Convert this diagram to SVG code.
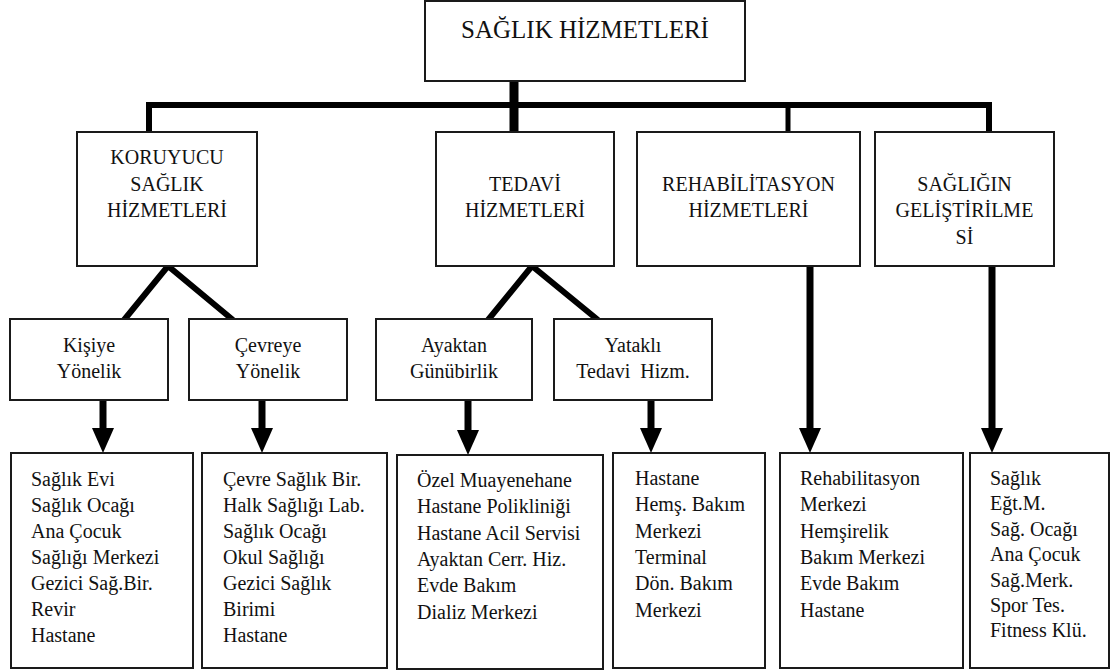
<svg xmlns="http://www.w3.org/2000/svg" width="1113" height="670" viewBox="0 0 1113 670">
<defs>
<style>
.box{fill:#fff;stroke:#1a1a1a;stroke-width:2}
text{font-family:'Liberation Serif','DejaVu Serif',serif;font-size:20px;fill:#111;white-space:pre}
.c{text-anchor:middle}
.title{font-size:25px}
.ln{fill:none;stroke:#000;stroke-width:6}
.arr{fill:none;stroke:#000;stroke-width:7;marker-end:url(#ah)}
</style>
<marker id="ah" markerUnits="userSpaceOnUse" viewBox="0 0 25 22" refX="0" refY="11" markerWidth="25" markerHeight="22" orient="auto">
<path d="M0,0 L25,11 L0,22 z" fill="#000"/>
</marker>
</defs>
<rect width="1113" height="670" fill="#fff"/>

<g id="connectors">
<path class="ln" d="M149,133 V105 H989 V133"/>
<line x1="514" y1="81" x2="514" y2="133" stroke="#000" stroke-width="9"/>
<line x1="788" y1="105" x2="788" y2="133" stroke="#000" stroke-width="5"/>
<polyline class="ln" stroke-width="5" points="124,320 168,266 233,320"/>
<polyline class="ln" stroke-width="5" points="488,320 532,266 598,320"/>
<line class="arr" x1="103" y1="400" x2="103" y2="428"/>
<line class="arr" x1="262" y1="400" x2="262" y2="428"/>
<line class="arr" x1="468" y1="400" x2="468" y2="430"/>
<line class="arr" x1="651" y1="400" x2="651" y2="428"/>
<line class="arr" x1="810" y1="266" x2="810" y2="428"/>
<line class="arr" x1="992" y1="266" x2="992" y2="428"/>
</g>

<g id="root">
<rect class="box" x="425" y="1" width="320" height="80"/>
<text class="c title" font-family="Liberation Serif" x="585" y="38">SAĞLIK HİZMETLERİ</text>
</g>

<g id="koruyucu">
<rect class="box" x="77" y="132" width="180" height="134"/>
<text class="c" font-family="Liberation Serif" x="167" y="164">KORUYUCU<tspan x="167" dy="27">SAĞLIK</tspan><tspan x="167" dy="26">HİZMETLERİ</tspan></text>
</g>
<g id="tedavi">
<rect class="box" x="436" y="132" width="178" height="134"/>
<text class="c" font-family="Liberation Serif" x="525" y="191">TEDAVİ<tspan x="525" dy="26">HİZMETLERİ</tspan></text>
</g>
<g id="rehabilitasyon">
<rect class="box" x="637" y="132" width="223" height="134"/>
<text class="c" font-family="Liberation Serif" x="748.5" y="191">REHABİLİTASYON<tspan x="748.5" dy="26">HİZMETLERİ</tspan></text>
</g>
<g id="gelistirilme">
<rect class="box" x="875" y="132" width="179" height="134"/>
<text class="c" font-family="Liberation Serif" x="964.5" y="191">SAĞLIĞIN<tspan x="964.5" dy="26">GELİŞTİRİLME</tspan><tspan x="964.5" dy="27">Sİ</tspan></text>
</g>

<g id="kisiye">
<rect class="box" x="10" y="319" width="158" height="81"/>
<text class="c" font-family="Liberation Serif" x="89" y="352">Kişiye<tspan x="89" dy="26">Yönelik</tspan></text>
</g>
<g id="cevreye">
<rect class="box" x="189" y="319" width="158" height="81"/>
<text class="c" font-family="Liberation Serif" x="268" y="352">Çevreye<tspan x="268" dy="26">Yönelik</tspan></text>
</g>
<g id="ayaktan">
<rect class="box" x="376" y="319" width="156" height="81"/>
<text class="c" font-family="Liberation Serif" x="454" y="352">Ayaktan<tspan x="454" dy="26">Günübirlik</tspan></text>
</g>
<g id="yatakli">
<rect class="box" x="554" y="319" width="158" height="81"/>
<text class="c" font-family="Liberation Serif" x="633" y="352">Yataklı<tspan x="633" dy="26">Tedavi  Hizm.</tspan></text>
</g>

<g id="list1">
<rect class="box" x="11" y="453" width="182" height="215"/>
<text font-family="Liberation Serif" x="31" y="486">Sağlık Evi<tspan x="31" dy="26">Sağlık Ocağı</tspan><tspan x="31" dy="26">Ana Çocuk</tspan><tspan x="31" dy="26">Sağlığı Merkezi</tspan><tspan x="31" dy="26">Gezici Sağ.Bir.</tspan><tspan x="31" dy="26">Revir</tspan><tspan x="31" dy="26">Hastane</tspan></text>
</g>
<g id="list2">
<rect class="box" x="202" y="453" width="185" height="215"/>
<text font-family="Liberation Serif" x="223" y="486">Çevre Sağlık Bir.<tspan x="223" dy="26">Halk Sağlığı Lab.</tspan><tspan x="223" dy="26">Sağlık Ocağı</tspan><tspan x="223" dy="26">Okul Sağlığı</tspan><tspan x="223" dy="26">Gezici Sağlık</tspan><tspan x="223" dy="26">Birimi</tspan><tspan x="223" dy="26">Hastane</tspan></text>
</g>
<g id="list3">
<rect class="box" x="397" y="455" width="206" height="214"/>
<text font-family="Liberation Serif" x="417" y="487">Özel Muayenehane<tspan x="417" dy="26.3">Hastane Polikliniği</tspan><tspan x="417" dy="26.3">Hastane Acil Servisi</tspan><tspan x="417" dy="26.3">Ayaktan Cerr. Hiz.</tspan><tspan x="417" dy="26.3">Evde Bakım</tspan><tspan x="417" dy="26.3">Dializ Merkezi</tspan></text>
</g>
<g id="list4">
<rect class="box" x="613" y="453" width="152" height="215"/>
<text font-family="Liberation Serif" x="635" y="485">Hastane<tspan x="635" dy="26.3">Hemş. Bakım</tspan><tspan x="635" dy="26.3">Merkezi</tspan><tspan x="635" dy="26.3">Terminal</tspan><tspan x="635" dy="26.3">Dön. Bakım</tspan><tspan x="635" dy="26.3">Merkezi</tspan></text>
</g>
<g id="list5">
<rect class="box" x="780" y="453" width="183" height="215"/>
<text font-family="Liberation Serif" x="800" y="485">Rehabilitasyon<tspan x="800" dy="26.3">Merkezi</tspan><tspan x="800" dy="26.3">Hemşirelik</tspan><tspan x="800" dy="26.3">Bakım Merkezi</tspan><tspan x="800" dy="26.3">Evde Bakım</tspan><tspan x="800" dy="26.3">Hastane</tspan></text>
</g>
<g id="list6">
<rect class="box" x="970" y="453" width="139" height="215"/>
<text font-family="Liberation Serif" x="990" y="485">Sağlık<tspan x="990" dy="25.4">Eğt.M.</tspan><tspan x="990" dy="25.4">Sağ. Ocağı</tspan><tspan x="990" dy="25.4">Ana Çocuk</tspan><tspan x="990" dy="25.4">Sağ.Merk.</tspan><tspan x="990" dy="25.4">Spor Tes.</tspan><tspan x="990" dy="25.4">Fitness Klü.</tspan></text>
</g>
</svg>
